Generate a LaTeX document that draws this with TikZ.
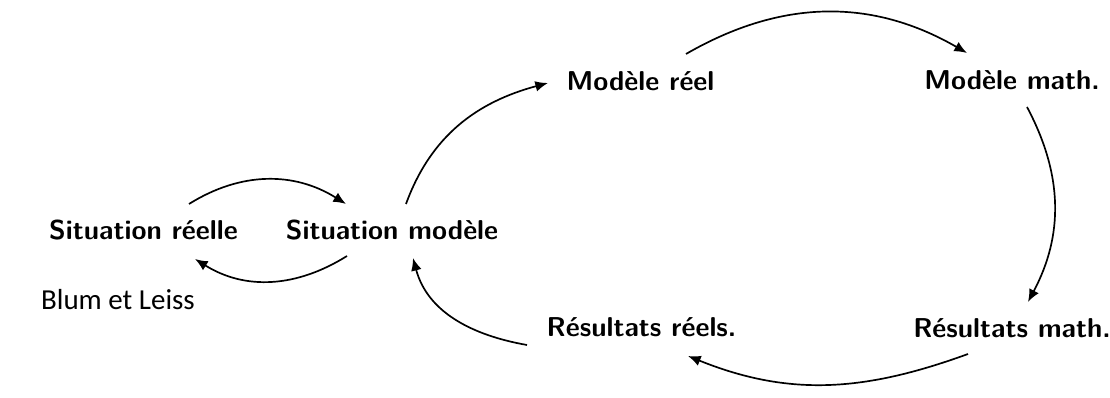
\documentclass[tikz,border=0pt]{standalone}
\usepackage{fontspec}
\newfontfamily\carlito{Carlito}
\usetikzlibrary{arrows.meta}
\begin{document}
\begin{tikzpicture}[x=0.0125cm,y=0.0125cm,line width=0.6pt,>={Latex[length=4.5pt,width=3.8pt]},
	lbl/.style={font=\sffamily\bfseries\fontsize{9.7}{12}\selectfont,inner sep=0pt,anchor=base}]
		\useasboundingbox (0,0) rectangle (1110,-398);
		\node[lbl] (sr) at (143.5,-240) {Situation réelle};
		\node[lbl] (sm) at (392,-240) {Situation modèle};
		\node[lbl] (mr) at (640.5,-91) {Modèle réel};
		\node[lbl] (mm) at (1012,-90) {Modèle math.};
		\node[lbl] (rm) at (1012,-338) {Résultats math.};
		\node[lbl] (rr) at (641.5,-337) {Résultats réels.};
		\node[font=\carlito\fontsize{10.3}{12}\selectfont,inner sep=0pt] (bl) at (118,-300) {Blum et Leiss};
		\draw [->] ([shift={(45.5,36)}]sr.base) to[out=32,in=148] ([shift={(-46,36)}]sm.base);
		\draw [->] ([shift={(-45,-16)}]sm.base) to[out=212,in=-32] ([shift={(51.5,-19)}]sr.base);
		\draw [->] ([shift={(14,36)}]sm.base) to[out=70,in=195] ([shift={(-92.5,8)}]mr.base);
		\draw [->] ([shift={(45.5,37)}]mr.base) to[out=30,in=150] ([shift={(-45,37)}]mm.base);
		\draw [->] ([shift={(15,-17)}]mm.base) to[out=-62,in=62] ([shift={(16,36)}]rm.base);
		\draw [->] ([shift={(-44,-16)}]rm.base) to[out=200,in=-22] ([shift={(46.5,-19)}]rr.base);
		\draw [->] ([shift={(-114.5,-8)}]rr.base) to[out=170,in=-75] ([shift={(21,-18)}]sm.base);
\end{tikzpicture}
\end{document}
